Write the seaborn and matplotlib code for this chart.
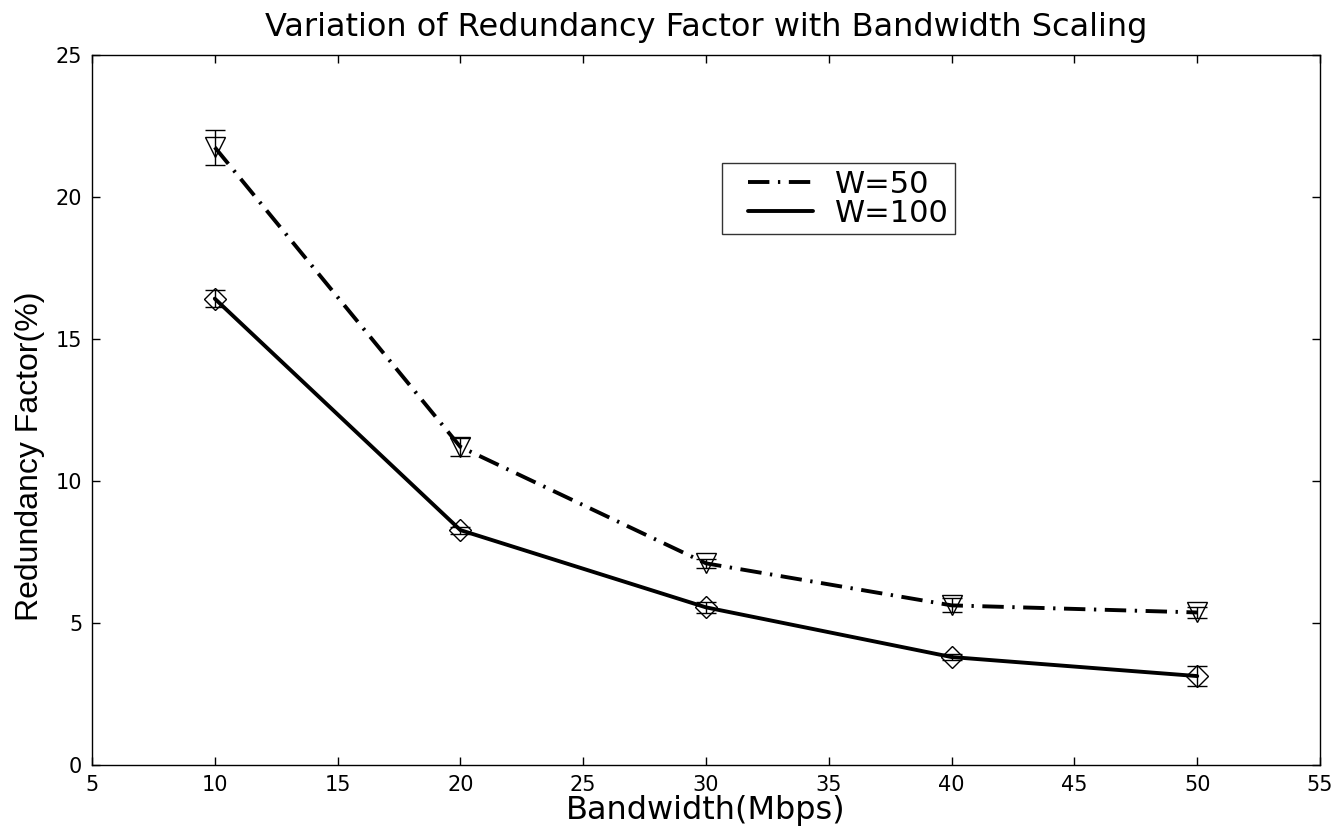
import matplotlib
matplotlib.use("Agg")
import matplotlib.pyplot as plt
import seaborn as sns
import pandas as pd
import numpy as np
from matplotlib.lines import Line2D
from matplotlib.legend_handler import HandlerLine2D

bandwidth = [10, 20, 30, 40, 50]
w50_mean = [21.75, 11.2, 7.1, 5.62, 5.37]
w50_err = [0.62, 0.33, 0.15, 0.25, 0.21]
w100_mean = [16.42, 8.27, 5.55, 3.8, 3.13]
w100_err = [0.29, 0.12, 0.2, 0.12, 0.35]
series_names = ["W=50", "W=100"]

sns.set_style("ticks")
plt.rcParams['font.family'] = ['DejaVu Sans']
for k in ["text.color", "axes.labelcolor", "xtick.color", "ytick.color", "axes.edgecolor"]:
    plt.rcParams[k] = "black"

df = pd.DataFrame({
    "Bandwidth": bandwidth * 2,
    "Value": w50_mean + w100_mean,
    "Series": [series_names[0]] * 5 + [series_names[1]] * 5,
})

dashdot = (5.5, 2.2, 0.6, 2.2)
lw = 2.8

fig = plt.figure(figsize=(13.37, 8.27), dpi=100)
ax = fig.add_axes([0.0688, 0.075, 0.9185, 0.8585])

sns.lineplot(data=df, x="Bandwidth", y="Value", hue="Series", style="Series",
             palette={"W=50": "black", "W=100": "black"},
             dashes={"W=50": dashdot, "W=100": ""},
             markers={"W=50": "v", "W=100": "D"},
             markersize=14, markerfacecolor="none", markeredgecolor="black",
             markeredgewidth=1.0, linewidth=lw, ax=ax, legend=False)

for line in ax.get_lines():
    if line.get_marker() == "D":
        line.set_markersize(11)

ax.errorbar(bandwidth, w50_mean, yerr=w50_err, fmt="none", ecolor="black",
            elinewidth=1.0, capsize=7, capthick=1.0)
ax.errorbar(bandwidth, w100_mean, yerr=w100_err, fmt="none", ecolor="black",
            elinewidth=1.0, capsize=7, capthick=1.0)

ax.set_xlim(5, 55)
ax.set_ylim(0, 25)
ax.set_xticks(np.arange(5, 56, 5))
ax.set_yticks(np.arange(0, 26, 5))
ax.tick_params(direction="in", top=True, right=True, labelsize=15, length=6, width=1)
ax.tick_params(axis="y", pad=7)
ax.tick_params(axis="x", pad=7)
for s in ax.spines.values():
    s.set_visible(True)
    s.set_linewidth(1.0)
    s.set_color("black")

ax.set_title("Variation of Redundancy Factor with Bandwidth Scaling", fontsize=23, pad=14)
ax.set_xlabel("Bandwidth(Mbps)", fontsize=23, labelpad=0)
ax.set_ylabel("Redundancy Factor(%)", fontsize=23,
              family=['Liberation Sans', 'DejaVu Sans'])
ax.yaxis.set_label_coords(-0.038, 0.435)

handles = [Line2D([], [], color="black", lw=lw, dashes=dashdot),
           Line2D([], [], color="black", lw=lw)]
hm = {h: HandlerLine2D(numpoints=2, marker_pad=0.62) for h in handles}
leg = ax.legend(handles, series_names, loc="upper left", bbox_to_anchor=(0.513, 0.848),
                prop={"size": 22}, frameon=True, fancybox=False, edgecolor="black",
                handlelength=3.37, handletextpad=0.1, borderaxespad=0, borderpad=0.22,
                labelspacing=0.0, handler_map=hm)
leg.get_frame().set_linewidth(1.0)

fig.savefig("out.png", dpi=100)
